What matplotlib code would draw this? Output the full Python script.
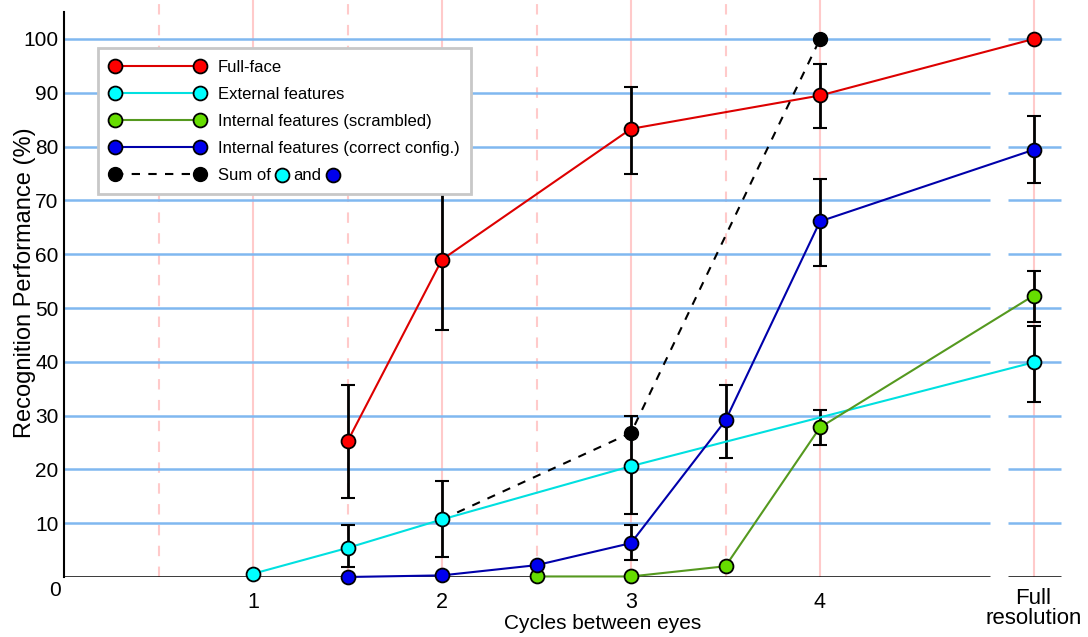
import numpy as np
import matplotlib
matplotlib.use("Agg")
import matplotlib.pyplot as plt
from matplotlib.lines import Line2D
from matplotlib.transforms import IdentityTransform

plt.rcParams['font.family'] = ['Liberation Sans', 'DejaVu Sans']

FULL = 5.13  # x position of "Full resolution"

# data (nan = no error bar)
face_x = [1.5, 2, 3, 4, FULL]
face_y = [25.2, 59, 83.3, 89.5, 100]
face_hi = [35.7, 71.5, 91, 95.3, np.nan]
face_lo = [14.6, 46, 75, 83.5, np.nan]

ext_x = [1, 1.5, 2, 3, FULL]
ext_y = [0.6, 5.4, 10.7, 20.6, 39.9]
ext_hi = [np.nan, 9.6, 17.9, 29.9, 46.6]
ext_lo = [np.nan, 1.8, 3.8, 11.7, 32.5]

scr_x = [2.5, 3, 3.5, 4, FULL]
scr_y = [0.1, 0.1, 2.0, 27.8, 52.3]
scr_hi = [np.nan, np.nan, np.nan, 31.1, 56.9]
scr_lo = [np.nan, np.nan, np.nan, 24.5, 47.4]

cor_x = [1.5, 2, 2.5, 3, 3.5, 4, FULL]
cor_y = [0.0, 0.3, 2.2, 6.3, 29.1, 66.1, 79.4]
cor_hi = [np.nan, np.nan, np.nan, 9.6, 35.7, 74.0, 85.7]
cor_lo = [np.nan, np.nan, np.nan, 3.2, 22.2, 57.8, 73.2]

sum_x = [2, 3, 4]
sum_y = [10.7, 26.8, 100]

xticks = [1, 2, 3, 4]
yticks = [10, 20, 30, 40, 50, 60, 70, 80, 90, 100]

fig = plt.figure(figsize=(10.88, 6.37), dpi=100)
ax = fig.add_axes([64/1088, 1 - 577/637, 1024/1088, 577/637])
ax.set_xlim(0, 1024/189)
ax.set_ylim(0, 577/5.38)
ax.patch.set_alpha(0)

for s in ['top', 'right', 'bottom']:
    ax.spines[s].set_visible(False)
ax.spines['left'].set_bounds(0, 105)
ax.spines['left'].set_linewidth(1.5)

# grid
pink = '#ffcaca'
ax.vlines(xticks + [FULL], 0, 110, color=pink, lw=1.5, zorder=0)
ax.vlines([0.5, 1.5, 2.5, 3.5], 0, 110, color=pink, lw=1.5, ls=(0, (5, 5)), zorder=0)
blue = '#80b8f0'
ax.hlines(yticks, 0, 4.90, color=blue, lw=1.8, zorder=1)
ax.hlines(yticks, 4.995, 5.275, color=blue, lw=1.8, zorder=1)
ax.hlines([0, 0], [0, 4.995], [4.90, 5.275], color='black', lw=1.8, zorder=1)

series = [
    (face_x, face_y, face_lo, face_hi, '#dd0000', '#ff0000', 'Full-face'),
    (ext_x, ext_y, ext_lo, ext_hi, '#00e0e0', '#00ffff', 'External features'),
    (scr_x, scr_y, scr_lo, scr_hi, '#55991f', '#66dd00', 'Internal features (scrambled)'),
    (cor_x, cor_y, cor_lo, cor_hi, '#0000aa', '#0000ee', 'Internal features (correct config.)'),
]

handles = []
for x, y, lo, hi, lc, mc, lab in series:
    y = np.array(y)
    lo = np.array(lo)
    hi = np.array(hi)
    ok = ~np.isnan(lo)
    ax.errorbar(np.array(x)[ok], y[ok], yerr=[y[ok] - lo[ok], hi[ok] - y[ok]],
                fmt='none', ecolor='black', elinewidth=2, capsize=5, capthick=1.5,
                zorder=3, clip_on=False)
    ax.plot(x, y, color=lc, lw=1.5, zorder=4, clip_on=False)
    ax.plot(x, y, 'o', ms=10, mfc=mc, mec='black', mew=1.3, zorder=5, clip_on=False)
    handles.append(Line2D([], [], color=lc, lw=1.5, marker='o', ms=10, mfc=mc,
                          mec='black', mew=1.3, label=lab))

ax.plot(sum_x, sum_y, color='black', lw=1.5, ls=(0, (4, 4)), zorder=4)
ax.plot(sum_x[1:], sum_y[1:], 'o', ms=10, mfc='black', mec='black', zorder=5, clip_on=False)
handles.append(Line2D([], [], color='black', lw=1.5, ls=(0, (4, 4)), marker='o', ms=10,
                      mfc='black', mec='black', label='Sum of'))

# ticks
ax.set_yticks(yticks)
ax.tick_params(axis='y', length=0, pad=4, labelsize=15)
ax.set_xticks(xticks)
ax.tick_params(axis='x', length=0, pad=11, labelsize=15.5)
ax.annotate('0', (0, 0), xytext=(-2, -3), textcoords='offset points',
            ha='right', va='top', fontsize=15)
ax.annotate('Full\nresolution', (FULL, 0), xytext=(0, -8), textcoords='offset points',
            ha='center', va='top', fontsize=16, linespacing=0.95)

ax.set_ylabel('Recognition Performance (%)', fontsize=17)
ax.yaxis.set_label_coords(-0.027, 0.51)
ax.set_xlabel('Cycles between eyes', fontsize=15)
ax.xaxis.set_label_coords(2.85 / (1024/189), -0.064)

leg = ax.legend(handles=handles, loc='upper left', bbox_to_anchor=(0.0332, 0.9168),
                borderaxespad=0, fontsize=12, numpoints=2, handlelength=5.7,
                handletextpad=0.8, labelspacing=0.72, fancybox=False, framealpha=1,
                borderpad=0.7, edgecolor='#c8c8c8')
leg.get_frame().set_linewidth(2)

# markers inside the "Sum of ... and ..." legend label
fig.canvas.draw()
r = fig.canvas.get_renderer()
bb = leg.get_texts()[4].get_window_extent(r)
yc = (bb.y0 + bb.y1) / 2
m1 = Line2D([bb.x1 + 11], [yc], marker='o', ms=10, mfc='#00ffff', mec='black',
            mew=1.3, transform=IdentityTransform(), zorder=10)
fig.add_artist(m1)
t_and = fig.text(bb.x1 + 22, yc, 'and', fontsize=12, va='center', ha='left',
                 transform=IdentityTransform(), zorder=10)
fig.canvas.draw()
bb2 = t_and.get_window_extent(r)
m2 = Line2D([bb2.x1 + 12], [yc], marker='o', ms=10, mfc='#0000ee', mec='black',
            mew=1.3, transform=IdentityTransform(), zorder=10)
fig.add_artist(m2)

fig.savefig('out.png', dpi=100)
